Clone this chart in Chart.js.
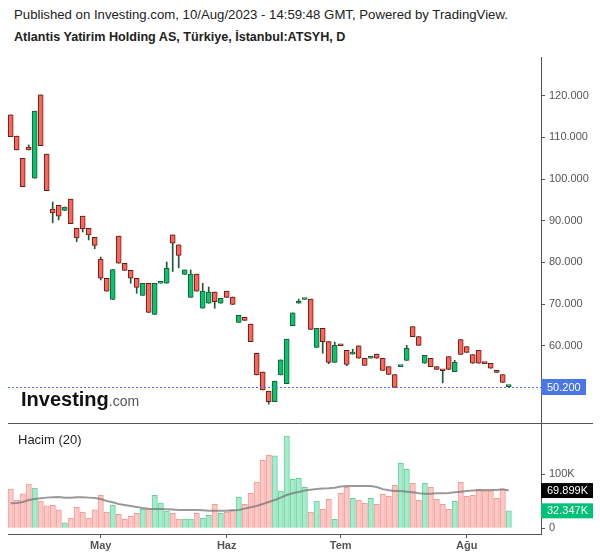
<!DOCTYPE html>
<html lang="tr">
<head>
  <meta charset="UTF-8">
  <title>ATSYH - Günlük</title>
  <script src="https://cdn.jsdelivr.net/npm/chart.js"></script>
  <style>
    body {
      margin: 0;
      background: #fff;
      font-family: Arial, "Liberation Sans", sans-serif;
    }
    #wrap {
      position: relative;
      width: 600px;
      height: 558px;
      overflow: hidden;
    }
    canvas { position: absolute; left: 0; }
    #fiyat { top: 57px; }
    #hacim { top: 423px; }
    .txt { position: absolute; white-space: nowrap; color: #222; }
    #yayin { left: 14px; top: 8px; font-size: 13.2px; line-height: 14px; }
    #baslik { left: 14px; top: 30px; font-size: 12.6px; line-height: 14px; font-weight: bold; }
    #hacimAd { left: 18px; top: 432px; font-size: 13px; line-height: 15px; }
    #logo { left: 21px; top: 389px; font-size: 20px; line-height: 20px; font-weight: bold; color: #111; }
    #logo span { font-size: 14px; font-weight: normal; color: #555; }
  </style>
</head>
<body>
<div id="wrap">
  <canvas id="fiyat" width="600" height="366"></canvas>
  <canvas id="hacim" width="600" height="135"></canvas>
  <div class="txt" id="yayin">Published on Investing.com, 10/Aug/2023 - 14:59:48 GMT, Powered by TradingView.</div>
  <div class="txt" id="baslik">Atlantis Yatirim Holding AS, Türkiye, İstanbul:ATSYH, D</div>
  <div class="txt" id="logo">Investing<span>.com</span></div>
  <div class="txt" id="hacimAd">Hacim (20)</div>
</div>

<script>
  // mum verileri (7 Nisan - 10 Agustos 2023), okunan degerler
  const acilis = [115.4, 110.3, 105.0, 107.7, 100.2, 120.2, 106.0, 92.8, 93.7, 92.5,
    95.2, 88.2, 91.1, 88.2, 86.0, 80.8, 76.2, 71.1, 86.3, 79.8,
    78.1, 76.2, 72.1, 75.0, 67.5, 75.0, 75.0, 86.6, 84.2, 77.1,
    71.6, 77.2, 69.0, 70.2, 72.9, 70.2, 73.1, 71.7, 65.6, 66.8,
    65.2, 58.2, 53.7, 49.1, 46.6, 53.0, 50.9, 64.8, 70.2, 71.1,
    71.2, 59.6, 64.2, 61.0, 56.0, 60.1, 58.9, 58.0, 60.0, 57.0,
    57.0, 58.0, 57.0, 55.0, 53.1, 55.0, 56.5, 64.6, 62.2, 55.8,
    57.0, 55.0, 54.2, 57.4, 53.8, 61.5, 59.8, 57.9, 58.9, 55.8,
    55.8, 54.1, 53.1, 50.2];
  const yuksek = [115.4, 110.3, 105.0, 108.2, 116.3, 120.2, 106.0, 94.5, 93.7, 93.3,
    95.2, 88.2, 91.1, 88.2, 86.0, 81.3, 76.2, 78.3, 86.3, 79.8,
    78.1, 76.2, 75.0, 75.0, 75.0, 75.0, 80.1, 86.6, 84.2, 78.2,
    78.2, 77.2, 75.0, 74.1, 72.9, 71.4, 73.1, 71.7, 67.3, 66.8,
    65.2, 58.2, 53.7, 49.1, 51.5, 56.6, 61.6, 67.9, 71.2, 71.1,
    71.2, 64.2, 64.2, 61.0, 60.9, 60.1, 58.9, 59.2, 60.0, 57.0,
    57.0, 58.0, 57.0, 55.0, 53.1, 55.0, 60.1, 64.6, 62.2, 57.7,
    57.0, 55.0, 54.2, 57.4, 56.5, 61.5, 59.8, 57.9, 58.9, 55.8,
    55.8, 54.1, 53.1, 50.2];
  const dusuk = [110.2, 107.0, 98.2, 107.0, 100.2, 108.0, 97.2, 89.5, 90.2, 92.5,
    89.3, 85.0, 87.3, 85.4, 83.3, 75.8, 73.1, 71.1, 79.8, 78.1,
    75.0, 72.6, 72.1, 68.0, 67.5, 75.0, 75.0, 77.8, 78.7, 77.1,
    71.6, 73.1, 69.0, 70.2, 69.0, 70.2, 71.6, 69.9, 65.6, 66.1,
    61.0, 53.0, 49.4, 46.0, 46.6, 53.0, 50.9, 64.8, 70.2, 71.1,
    63.9, 59.6, 58.2, 55.7, 56.0, 60.0, 55.2, 58.0, 57.0, 55.3,
    57.0, 57.0, 54.1, 53.1, 50.0, 55.0, 56.5, 62.2, 60.1, 55.8,
    55.0, 54.3, 51.1, 54.3, 53.8, 57.9, 58.4, 55.8, 55.8, 55.7,
    54.6, 53.6, 51.2, 50.2];
  const kapanis = [110.2, 107.0, 98.2, 107.0, 116.3, 108.0, 97.2, 91.9, 91.1, 93.3,
    89.3, 85.9, 88.1, 86.6, 84.1, 76.2, 73.1, 78.3, 79.8, 78.1,
    76.2, 74.0, 75.0, 68.0, 75.0, 75.0, 78.6, 84.6, 81.7, 78.2,
    77.2, 73.1, 73.1, 72.9, 70.6, 71.4, 71.6, 69.9, 67.3, 66.1,
    61.0, 53.0, 49.4, 46.6, 51.5, 56.6, 61.6, 67.9, 70.6, 71.1,
    63.9, 64.2, 61.0, 56.0, 60.1, 60.0, 55.5, 58.0, 57.0, 55.3,
    57.0, 57.0, 54.1, 53.1, 50.0, 55.0, 59.4, 62.2, 60.1, 57.7,
    55.0, 54.3, 54.0, 54.3, 56.0, 57.9, 58.4, 55.8, 55.8, 55.7,
    54.6, 53.6, 51.2, 50.2];

  // hacim (bin adet) ve 20 gunluk ortalama
  const hacim = [72.8, 51.9, 63.6, 82.1, 74.7, 50.6, 41.4, 42.6, 34.0, 9.9,
    19.1, 38.9, 30.2, 19.1, 34.0, 61.1, 30.2, 42.6, 25.9, 17.3,
    22.2, 27.8, 35.2, 35.2, 61.1, 46.9, 32.1, 27.8, 17.3, 17.3,
    17.3, 27.8, 18.5, 24.1, 44.4, 27.8, 30.2, 34.0, 57.4, 44.4,
    64.8, 85.8, 125.9, 135.8, 134.0, 69.1, 171.0, 90.7, 92.6, 75.9,
    30.2, 50.6, 35.2, 53.7, 16.7, 65.4, 75.9, 55.6, 51.9, 46.9,
    55.6, 44.4, 63.0, 59.3, 79.6, 120.4, 109.3, 83.3, 51.9, 83.3,
    75.9, 53.7, 44.4, 35.2, 50.0, 85.2, 59.3, 61.1, 72.2, 69.1,
    69.1, 55.6, 72.2, 32.347];
  const hacimOrt = [46.3, 46.9, 48.8, 52.5, 54.3, 55.6, 56.8, 57.4, 58.0, 56.8,
    56.8, 57.4, 57.4, 56.8, 56.2, 54.3, 50.6, 48.1, 45.1, 43.2,
    41.4, 39.5, 37.7, 36.4, 35.8, 35.8, 35.2, 34.6, 34.0, 34.0,
    34.0, 34.0, 33.3, 32.7, 32.7, 32.7, 32.7, 33.3, 34.0, 36.4,
    38.9, 41.4, 45.1, 48.8, 52.5, 56.8, 61.7, 64.8, 67.3, 69.8,
    71.6, 72.8, 73.5, 74.1, 75.3, 77.2, 78.4, 78.4, 78.4, 78.4,
    78.4, 76.5, 72.5, 70.4, 69.1, 69.1, 67.9, 66.7, 64.8, 64.2,
    64.2, 64.8, 64.8, 65.4, 66.7, 67.9, 69.1, 69.8, 70.4, 71.0,
    71.0, 71.0, 72.2, 69.899];

  // eksen etiketleri
  const aylar = ['May', 'Haz', 'Tem', 'Ağu'];
  const ayBaslari = [15, 36, 55, 76];
  const fiyatTikleri = [50, 60, 70, 80, 90, 100, 110, 120];
  const hacimTikleri = [0, 100];

  const MAVI = '#4a76e6';
  const GRI = '#555';
  const X_MIN = -0.45, X_MAX = 88.38;

  const n = kapanis.length;
  const yukselis = kapanis.map((c, i) => c >= acilis[i]);

  const fitilVeri = kapanis.map((c, i) => ({ x: i, y: [dusuk[i], yuksek[i]] }));
  const govdeVeri = kapanis.map((c, i) => ({ x: i, y: [Math.min(acilis[i], c), Math.max(acilis[i], c)] }));

  function sagEksen(s) {
    s.width = 59;
    s.paddingTop = 0;
    s.paddingBottom = 0;
  }

  // son fiyat cizgisi ve etiketi
  const sonFiyat = {
    id: 'sonFiyat',
    afterDraw(chart) {
      const ctx = chart.ctx, a = chart.chartArea;
      const y = Math.round(chart.scales.y.getPixelForValue(kapanis[n - 1])) + 0.5;
      ctx.save();
      ctx.strokeStyle = MAVI;
      ctx.lineWidth = 1;
      ctx.setLineDash([2, 2]);
      ctx.beginPath();
      ctx.moveTo(a.left, y);
      ctx.lineTo(a.right, y);
      ctx.stroke();
      ctx.setLineDash([]);
      ctx.fillStyle = MAVI;
      ctx.fillRect(a.right, y - 8.5, 45, 16);
      ctx.fillStyle = '#fff';
      ctx.font = '11px Arial, "Liberation Sans"';
      ctx.textAlign = 'left';
      ctx.textBaseline = 'middle';
      ctx.fillText(kapanis[n - 1].toFixed(3), a.right + 6, y);
      ctx.restore();
    }
  };

  new Chart(document.getElementById('fiyat'), {
    type: 'bar',
    data: {
      datasets: [
        {
          data: govdeVeri,
          backgroundColor: yukselis.map(u => u ? '#08c46c' : '#f8665c'),
          borderColor: yukselis.map(u => u ? '#1b5c39' : '#6e1a15'),
          borderWidth: 1,
          borderSkipped: false,
          barThickness: 5,
          minBarLength: 2,
          grouped: false,
          order: 0
        },
        {
          data: fitilVeri,
          backgroundColor: '#1f5a3a',
          borderWidth: 0,
          barThickness: 1,
          grouped: false,
          order: 1
        }
      ]
    },
    options: {
      responsive: false,
      animation: false,
      layout: { padding: { left: 8, right: 0, top: 0, bottom: 0 } },
      plugins: { legend: { display: false }, tooltip: { enabled: false } },
      scales: {
        x: { type: 'linear', min: X_MIN, max: X_MAX, offset: false, display: false },
        y: {
          position: 'right',
          min: 41.47,
          max: 129.3,
          afterFit: sagEksen,
          afterBuildTicks: s => { s.ticks = fiyatTikleri.map(v => ({ value: v })); },
          grid: { drawOnChartArea: false, drawTicks: true, tickLength: 4, color: GRI },
          border: { color: GRI },
          ticks: {
            padding: 4,
            color: GRI,
            font: { size: 11, family: 'Arial, "Liberation Sans"' },
            callback: v => v.toFixed(3)
          }
        }
      }
    },
    plugins: [sonFiyat]
  });

  // hacim paneli: ust ayirici cizgi ve son deger etiketleri
  const hacimEtiket = {
    id: 'hacimEtiket',
    afterDraw(chart) {
      const ctx = chart.ctx, a = chart.chartArea, ys = chart.scales.y;
      ctx.save();
      ctx.strokeStyle = GRI;
      ctx.lineWidth = 1;
      ctx.beginPath();
      ctx.moveTo(a.left, 0.5);
      ctx.lineTo(593, 0.5);
      ctx.stroke();
      ctx.font = '11px Arial, "Liberation Sans"';
      ctx.textBaseline = 'middle';
      const kutu = (deger, renk) => {
        const y = ys.getPixelForValue(deger);
        ctx.fillStyle = renk;
        ctx.fillRect(a.right, y - 7.5, 52, 15);
        ctx.fillStyle = '#fff';
        ctx.fillText(deger.toFixed(3) + 'K', a.right + 6, y);
      };
      kutu(hacimOrt[n - 1], '#000');
      kutu(hacim[n - 1], '#00c176');
      ctx.restore();
    }
  };

  new Chart(document.getElementById('hacim'), {
    type: 'bar',
    data: {
      datasets: [
        {
          type: 'line',
          data: hacimOrt.map((v, i) => ({ x: i, y: v })),
          borderColor: 'rgba(120,120,120,0.75)',
          borderWidth: 2,
          pointRadius: 0,
          tension: 0,
          order: 0
        },
        {
          data: hacim.map((v, i) => ({ x: i, y: v })),
          backgroundColor: yukselis.map(u => u ? '#a8ebcb' : '#fdc8c5'),
          borderColor: yukselis.map(u => u ? '#62d39f' : '#f39a93'),
          borderWidth: 1,
          barThickness: 5.4,
          grouped: false,
          order: 1
        }
      ]
    },
    options: {
      responsive: false,
      animation: false,
      layout: { padding: { left: 8, right: 0, top: 0, bottom: 0 } },
      plugins: { legend: { display: false }, tooltip: { enabled: false } },
      scales: {
        x: {
          type: 'linear',
          min: X_MIN,
          max: X_MAX,
          offset: false,
          afterFit: s => { s.height = 24; s.paddingLeft = 0; s.paddingRight = 0; },
          afterBuildTicks: s => { s.ticks = ayBaslari.map(v => ({ value: v })); },
          grid: { offset: false, drawOnChartArea: false, drawTicks: true, tickLength: 4, color: GRI },
          border: { color: GRI },
          ticks: {
            autoSkip: false,
            maxRotation: 0,
            padding: 1,
            color: GRI,
            font: { size: 11, weight: 'bold', family: 'Arial, "Liberation Sans"' },
            callback: v => aylar[ayBaslari.indexOf(v)]
          }
        },
        y: {
          position: 'right',
          min: -10.56,
          max: 195,
          afterFit: sagEksen,
          afterBuildTicks: s => { s.ticks = hacimTikleri.map(v => ({ value: v })); },
          grid: { drawOnChartArea: false, drawTicks: true, tickLength: 4, color: GRI },
          border: { color: GRI },
          ticks: {
            padding: 4,
            color: GRI,
            font: { size: 11, family: 'Arial, "Liberation Sans"' },
            callback: v => v ? v + 'K' : '0'
          }
        }
      }
    },
    plugins: [hacimEtiket]
  });
</script>
</body>
</html>
